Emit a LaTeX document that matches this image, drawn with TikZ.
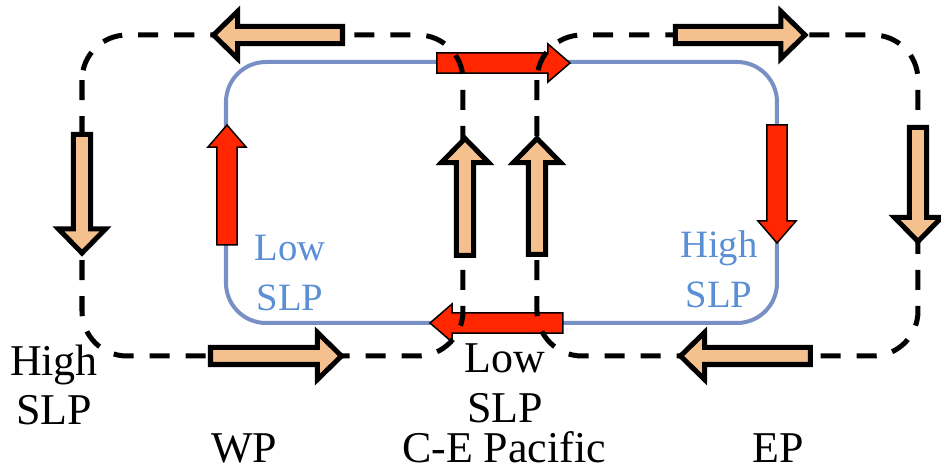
\documentclass[tikz,border=0pt]{standalone}
\usepackage{fontspec}
\setmainfont{Liberation Serif}
\usetikzlibrary{calc}

\definecolor{flowtan}{RGB}{244,193,142}
\definecolor{flowred}{RGB}{255,38,0}
\definecolor{cellblue}{RGB}{120,144,196}
\definecolor{slpblue}{RGB}{90,142,213}

% block arrow from tail #5 to tip #6
% #1 style, #2 half body width, #3 half head width, #4 head length
\newcommand{\blockarrow}[6]{%
	\draw[#1] ($(#5)!#2!90:(#6)$)
		-- ($(#6)!#4!(#5)!#2!90:(#6)$)
		-- ($(#6)!#4!(#5)!#3!90:(#6)$)
		-- (#6)
		-- ($(#6)!#4!(#5)!#3!-90:(#6)$)
		-- ($(#6)!#4!(#5)!#2!-90:(#6)$)
		-- ($(#5)!#2!-90:(#6)$) -- cycle;}
\newcommand{\tanarrow}[2]{\blockarrow{tan arrow}{0.085cm}{0.235cm}{0.24cm}{#1}{#2}}
\newcommand{\redarrow}[2]{\blockarrow{red arrow}{0.1cm}{0.19cm}{0.22cm}{#1}{#2}}

\begin{document}
\begin{tikzpicture}[
		x=0.01cm, y=-0.01cm,
		cell/.style={
			draw=cellblue,
			line width=0.4mm,
			rounded corners=4mm
		},
		loop/.style={
			draw=black,
			line width=0.5mm,
			dash pattern=on 2mm off 1.6mm,
			rounded corners=4.5mm
		},
		tan arrow/.style={
			draw=black,
			fill=flowtan,
			line width=0.5mm
		},
		red arrow/.style={
			draw=black,
			fill=flowred,
			line width=0.15mm
		},
		blue label/.style={
			text=slpblue,
			align=center,
			inner sep=0pt,
			font=\fontsize{11}{14.2}\selectfont
		},
		black label/.style={
			align=center,
			inner sep=0pt,
			font=\fontsize{12.5}{14.2}\selectfont
		}
		]
		
		\useasboundingbox (0,0) rectangle (941,476);
		
		% surface pressure cell
		\draw[cell] (226,62) rectangle (777,323);
		
		% anomalous flow
		\redarrow{437,63}{570,63}
		\redarrow{563,323}{430,323}
		\redarrow{227,245}{227,125}
		\redarrow{777,125}{777,243}
		
		% the two circulation loops
		\draw[loop] (82,35) rectangle (463,356);
		\draw[loop] (537,35) rectangle (918,356);
		
		% mean flow
		\tanarrow{342.5,35}{213.5,35}
		\tanarrow{675.5,35}{805,35}
		\tanarrow{82,134.5}{82,253}
		\tanarrow{918,127.5}{918,241.5}
		\tanarrow{210.5,356}{341.5,356}
		\tanarrow{810.5,356}{680.5,356}
		\tanarrow{465,255.5}{465,138.5}
		\tanarrow{537,254.5}{537,138.5}
		
		\node[blue label] (lowcell) at (290,273) {Low\\SLP};
		\node[blue label] (highcell) at (719,269) {High\\SLP};
		
		\node[black label] (highwest) at (54,385) {High\\SLP};
		\node[black label] (lowmid) at (505,383) {Low\\SLP};
		
		\node[black label, anchor=base] (wp) at (244,463) {WP};
		\node[black label, anchor=base] (cep) at (504,463) {C-E Pacific};
		\node[black label, anchor=base] (ep) at (778,463) {EP};
		
	\end{tikzpicture}
\end{document}
